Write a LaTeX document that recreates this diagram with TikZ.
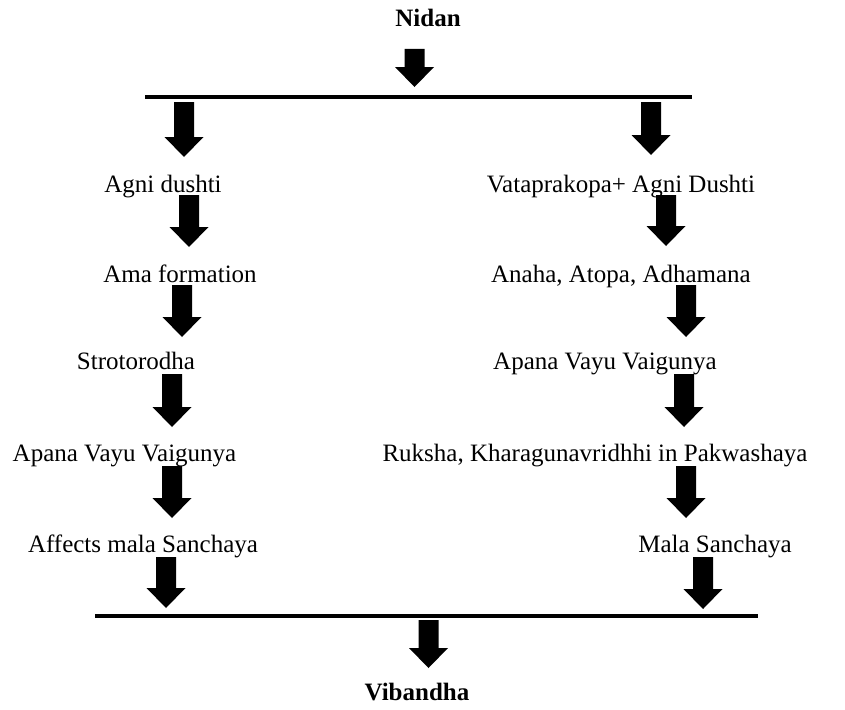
\documentclass[tikz,border=0pt]{standalone}
\usepackage{fontspec}
\setmainfont{Liberation Serif}
\newcommand\blockarrow[3]{%
  \fill ({#1-10},#2) -- ({#1+10},#2) -- ({#1+10},{#3-20}) -- ({#1+19.5},{#3-20})
    -- (#1,#3) -- ({#1-19.5},{#3-20}) -- ({#1-10},{#3-20}) -- cycle;}
\begin{document}
\begin{tikzpicture}[x=1pt,y=-1pt,
  lbl/.style={anchor=base,inner sep=0pt,font=\fontsize{25}{29}\selectfont},
  blbl/.style={lbl,font=\fontsize{25}{29}\selectfont\bfseries},
  bar/.style={line width=4pt}]
\useasboundingbox (0,0) rectangle (845,709);
\node[blbl] (nidan) at (428,27) {Nidan};
\blockarrow{414.5}{49}{87}
\coordinate (t1) at (145,97); \coordinate (t2) at (692,97);
\draw[bar] (t1) -- (t2);
% left column
\blockarrow{184}{102}{157}
\node[lbl] (a1) at (163,192) {Agni dushti};
\blockarrow{189}{195}{247}
\node[lbl] (a2) at (180,282) {Ama formation};
\blockarrow{182}{285}{337}
\node[lbl] (a3) at (136,369) {Strotorodha};
\blockarrow{172}{374}{427}
\node[lbl] (a4) at (124.5,461) {Apana Vayu Vaigunya};
\blockarrow{172}{466}{518}
\node[lbl] (a5) at (143,552) {Affects mala Sanchaya};
\blockarrow{166}{557}{608}
% right column
\blockarrow{651}{102}{155}
\node[lbl] (b1) at (621,192) {Vataprakopa+ Agni Dushti};
\blockarrow{666}{195}{246}
\node[lbl] (b2) at (621,282) {Anaha, Atopa, Adhamana};
\blockarrow{686}{285}{337}
\node[lbl] (b3) at (605,369) {Apana Vayu Vaigunya};
\blockarrow{684}{374}{427}
\node[lbl] (b4) at (595,461) {Ruksha, Kharagunavridhhi in Pakwashaya};
\blockarrow{686}{466}{518}
\node[lbl] (b5) at (715,552) {Mala Sanchaya};
\blockarrow{703}{557}{609}
% bottom
\coordinate (u1) at (95,616); \coordinate (u2) at (758,616);
\draw[bar] (u1) -- (u2);
\blockarrow{428.5}{620}{668}
\node[blbl] (vib) at (417,700) {Vibandha};
\end{tikzpicture}
\end{document}
